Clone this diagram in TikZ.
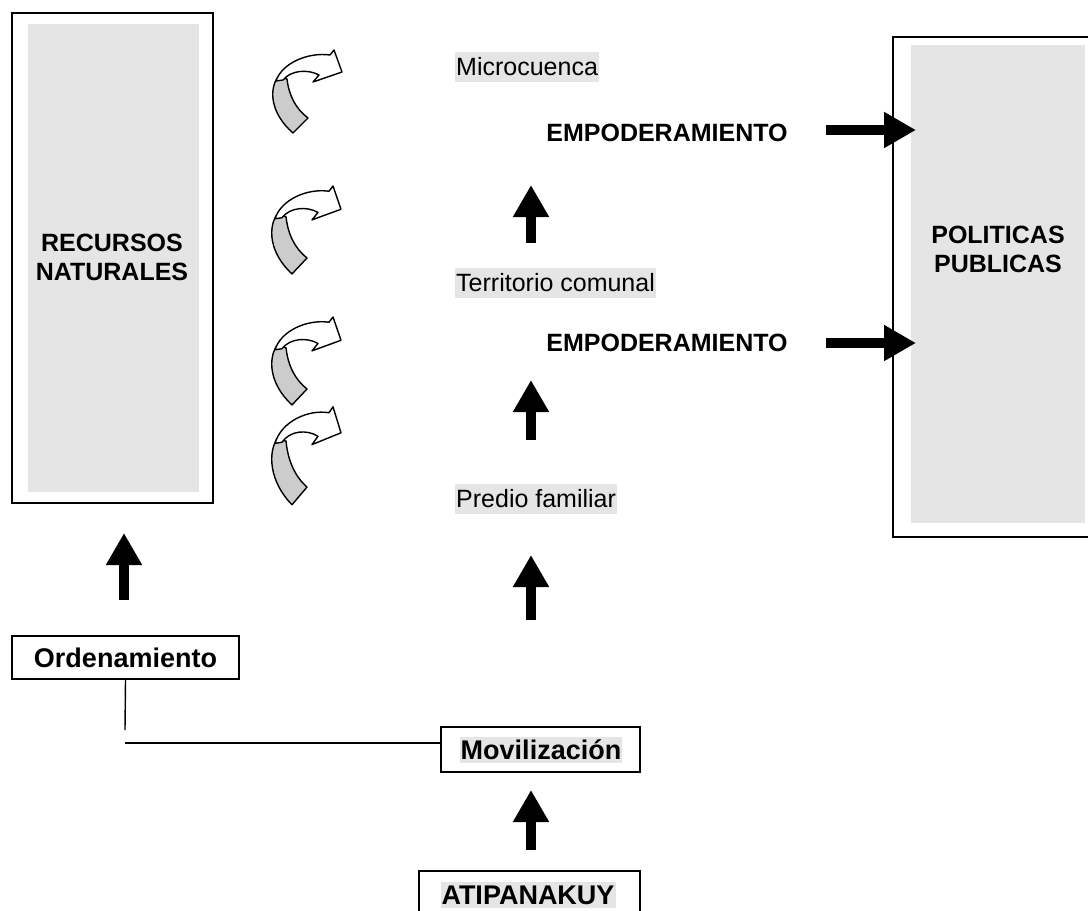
\documentclass[tikz,border=0pt]{standalone}
\usepackage{fontspec}
\setmainfont{Liberation Sans}
\usetikzlibrary{arrows.meta}
\definecolor{panel}{HTML}{E5E5E5}
\definecolor{ribbon}{HTML}{CCCCCC}
\begin{document}
\begin{tikzpicture}[x=1pt,y=-1pt,
  frame/.style={draw,line width=2pt,inner sep=0pt},
  thinline/.style={line width=1.4pt},
  blockarrow/.style={line width=10pt,-{Triangle[width=34pt,length=32pt]}},
  plainlbl/.style={font=\fontsize{25}{30}\selectfont,inner sep=0pt},
  boldlbl/.style={font=\bfseries\fontsize{25}{29}\selectfont,inner sep=0pt,align=center},
  boxlbl/.style={font=\bfseries\fontsize{27}{31}\selectfont,inner sep=0pt},
  shaded/.style={fill=panel,inner xsep=1pt,inner ysep=6pt},
  curlarrow/.pic={
    % back side of the ribbon
    \draw[line width=1.4pt,fill=ribbon,line join=round]
      (20,26) .. controls (11,38) and (12,62) .. (35,82) -- (50,67)
      .. controls (38,58) and (31,45) .. (29,28) -- cycle;
    % front side with the head
    \draw[line width=1.4pt,fill=white,line join=round]
      (18,30) .. controls (24,12) and (50,1) .. (72,4) -- (76,-1) -- (84,21)
      -- (55,31) -- (61,24) .. controls (50,18) and (33,19) .. (25,29) -- cycle;
  }]
\useasboundingbox (0,0) rectangle (1088,911);
\clip (0,0) rectangle (1088,911);

% natural resources panel
\node[frame,minimum width=201pt,minimum height=490pt] (rn) at (112.5,258) {};
\fill[panel] (28,24) rectangle (199,492);
\node[boldlbl] (rntxt) at (112,257) {RECURSOS\\NATURALES};

% public policy panel (right edge runs off the page)
\node[frame,minimum width=210pt,minimum height=500pt] (pp) at (998,287) {};
\fill[panel] (911,45) rectangle (1085,523);
\node[boldlbl] (pptxt) at (998,249) {POLITICAS\\PUBLICAS};

% ribbon arrows
\pic at (258,51) {curlarrow};
\pic[yscale=1.06] at (257,187) {curlarrow};
\pic[yscale=1.06] at (257,318) {curlarrow};
\pic[yscale=1.18] at (257,408) {curlarrow};

% scale levels
\node[plainlbl,shaded,anchor=west] (micro) at (455,67) {Microcuenca};
\node[plainlbl,shaded,anchor=west] (terr) at (455,283) {Territorio comunal};
\node[plainlbl,shaded,anchor=west] (pred) at (455,499) {Predio familiar};
\node[boldlbl] (emp1) at (667,133) {EMPODERAMIENTO};
\node[boldlbl] (emp2) at (667,343) {EMPODERAMIENTO};

% lower boxes
\node[frame,minimum width=227pt,minimum height=43pt] (ord) at (125.5,657.5) {};
\node[boxlbl] (ordtxt) at (125.5,658) {Ordenamiento};
\node[frame,minimum width=199pt,minimum height=45pt] (mov) at (540.5,749.5) {};
\node[boxlbl,fill=panel,inner xsep=1pt,inner ysep=3pt] (movtxt) at (541,750) {Movilización};
\node[frame,minimum width=221pt,minimum height=70pt] (ati) at (529.5,906) {};
\node[boxlbl,fill=panel,inner xsep=1pt,inner ysep=4pt] (atitxt) at (528,895) {ATIPANAKUY};

% arrow end points
\coordinate (r1s) at (826,130); \coordinate (r1e) at (916,130);
\coordinate (r2s) at (826,343); \coordinate (r2e) at (916,343);
\coordinate (u1s) at (531,243); \coordinate (u1e) at (531,185);
\coordinate (u2s) at (531,440); \coordinate (u2e) at (531,380);
\coordinate (u3s) at (531,620); \coordinate (u3e) at (531,555);
\coordinate (u4s) at (531,850); \coordinate (u4e) at (531,790);
\coordinate (u5s) at (124,600); \coordinate (u5e) at (124,533);

\draw[blockarrow] (r1s) -- (r1e);
\draw[blockarrow] (r2s) -- (r2e);
\draw[blockarrow] (u1s) -- (u1e);
\draw[blockarrow] (u2s) -- (u2e);
\draw[blockarrow] (u3s) -- (u3e);
\draw[blockarrow] (u4s) -- (u4e);
\draw[blockarrow] (u5s) -- (u5e);

% link from Ordenamiento to Movilización
\coordinate (ordend) at (125,730);
\coordinate (hstart) at (125,743);
\draw[thinline] (ord.south) -- (ordend);
\draw[thinline] (hstart) -- (hstart -| mov.west);
\end{tikzpicture}
\end{document}
